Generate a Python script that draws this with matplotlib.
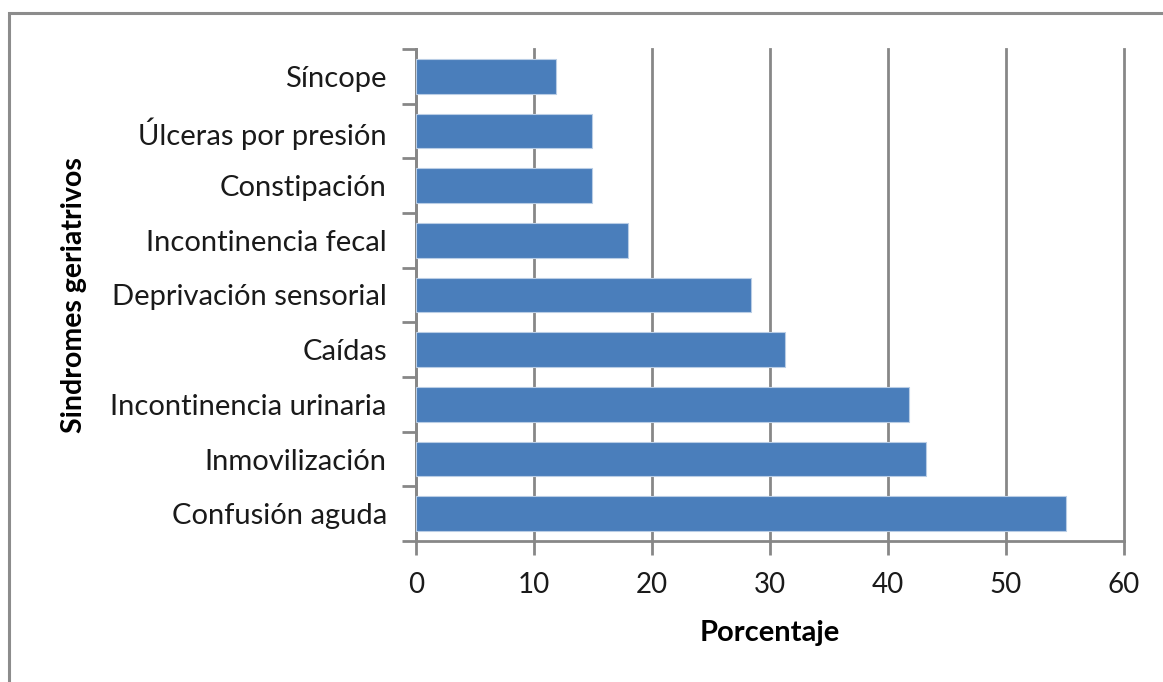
import numpy as np
import matplotlib.pyplot as plt
from matplotlib.patches import Rectangle

categorias = ["Confusión aguda", "Inmovilización", "Incontinencia urinaria", "Caídas",
              "Deprivación sensorial", "Incontinencia fecal", "Constipación",
              "Úlceras por presión", "Síncope"]
porcentaje = [55.1, 43.2, 41.8, 31.3, 28.4, 18.0, 14.9, 14.9, 11.9]
xticks = [0, 10, 20, 30, 40, 50, 60]

plt.rcParams["font.family"] = ["Lato", "DejaVu Sans"]
grey = "#878787"

fig = plt.figure(figsize=(11.63, 6.82), dpi=100)
fig.patches.append(Rectangle((9/1163, -0.1), 1.2, 0.1 + 1 - 13/682, transform=fig.transFigure,
                             fill=False, edgecolor="#8c8c8c", linewidth=2.2))
ax = fig.add_axes([416/1163, 1 - 541/682, 708/1163, 492/682])

y = np.arange(len(categorias))
ax.barh(y, porcentaje, height=0.64, color="#4a7ebb", edgecolor="#b9cde5", linewidth=0.8, zorder=3)

ax.set_xlim(0, 60)
ax.set_ylim(-0.5, len(categorias) - 0.5)
ax.set_xticks(xticks)
ax.set_xticklabels([str(t) for t in xticks], fontsize=20, color="#1a1a1a")
ax.set_yticks(y)
ax.set_yticklabels(categorias, fontsize=21, color="#1a1a1a")
ax.set_yticks(np.arange(-0.5, len(categorias), 1), minor=True)
ax.tick_params(axis="y", which="major", length=0, pad=21)
ax.tick_params(axis="y", which="minor", length=10, width=2, color=grey)
ax.tick_params(axis="x", length=10, width=2, color=grey, pad=12)
ax.xaxis.grid(True, color=grey, linewidth=2, zorder=0)
for g in ax.get_xgridlines():
    g.set_clip_on(False)
for s in ["top", "right"]:
    ax.spines[s].set_visible(False)
for s in ["left", "bottom"]:
    ax.spines[s].set_color(grey)
    ax.spines[s].set_linewidth(2)

ax.set_xlabel("Porcentaje", fontsize=21, fontweight="bold", labelpad=16)
ax.set_ylabel("Sindromes geriatrivos", fontsize=20.5, fontweight="bold", labelpad=17)

plt.savefig("out.png", dpi=100)
